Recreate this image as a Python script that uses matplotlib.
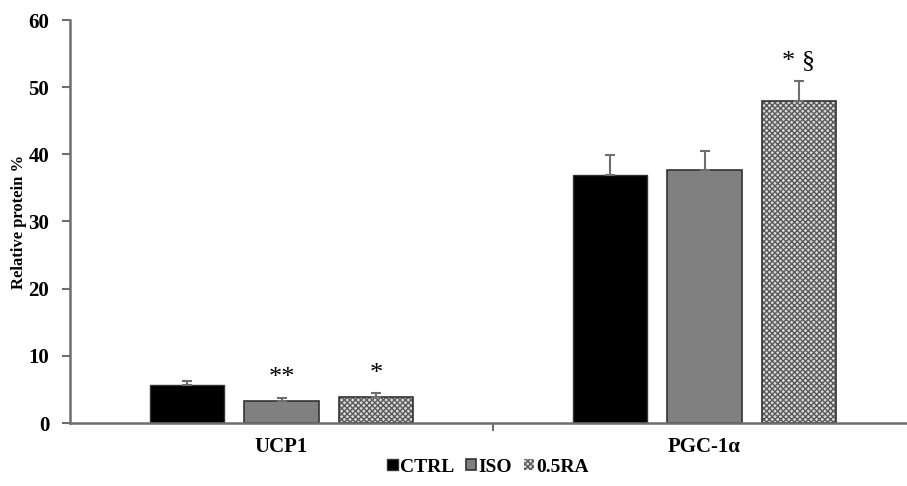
import numpy as np
import matplotlib.pyplot as plt

plt.rcParams['font.family'] = ['Liberation Serif', 'DejaVu Serif']
plt.rcParams['font.weight'] = 'bold'

categories = ["UCP1", "PGC-1\u03b1"]
groups = ["CTRL", "ISO", "0.5RA"]
ctrl = [5.6, 36.9]
iso = [3.3, 37.6]
ra = [3.9, 47.9]
ctrl_err = [0.6, 3.0]
iso_err = [0.4, 2.9]
ra_err = [0.5, 3.0]
marks = [["", "**", "*"], ["", "", "* \u00a7"]]

fig = plt.figure(figsize=(9.07, 4.86), dpi=100)
# axes run past the right edge of the figure, as in the reference
ax = fig.add_axes([70/907, 63/486, 846/907, 403/486])

x = np.arange(len(categories))
w = 0.177
step = 0.2235
vals = [ctrl, iso, ra]
errs = [ctrl_err, iso_err, ra_err]
ecol = '#6e6e6e'

for i, (v, e) in enumerate(zip(vals, errs)):
    pos = x + (i - 1) * step
    if i == 0:
        ax.bar(pos, v, w, color='black', edgecolor='#333333', lw=1, label=groups[i])
    elif i == 1:
        ax.bar(pos, v, w, color='#808080', edgecolor='#333333', lw=1.2, label=groups[i])
    else:
        ax.bar(pos, v, w, color='#d9d9d9', edgecolor='#5a5a5a', hatch='xxxxxx', lw=0, label=groups[i])
        ax.bar(pos, v, w, color='none', edgecolor='#333333', lw=1.2)
    ax.errorbar(pos, v, yerr=[np.zeros(len(e)), e], fmt='none', ecolor=ecol,
                elinewidth=1.5, capsize=3.5, capthick=1.5)
    for j in range(len(categories)):
        m = marks[j][i]
        if m:
            ax.text(pos[j], v[j] + e[j] + 1.3, m, ha='center', va='bottom',
                    fontsize=19, fontweight='normal')

ax.set_xlim(-0.5, 1.5)
ax.set_ylim(0, 60)
ax.set_yticks(range(0, 61, 10))
ax.set_xticks(x)
ax.set_xticklabels(categories, fontsize=15, fontweight='bold')
ax.set_xticks([0.5], minor=True)
ax.tick_params(axis='x', which='major', length=0, pad=10)
ax.tick_params(axis='x', which='minor', length=6, width=1.5, color=ecol)
ax.tick_params(axis='y', length=6, width=1.5, color=ecol, labelsize=15, pad=9)
for lab in ax.get_yticklabels():
    lab.set_fontweight('bold')

for s in ['top', 'right']:
    ax.spines[s].set_visible(False)
for s in ['left', 'bottom']:
    ax.spines[s].set_color(ecol)
    ax.spines[s].set_linewidth(1.8)

ax.set_ylabel("Relative protein %", fontsize=12, fontweight='bold', labelpad=1)

handles, labels = ax.get_legend_handles_labels()
fig.legend(handles, labels, loc='center', bbox_to_anchor=(488/907, 1 - 467/486),
           ncol=3, frameon=False, handlelength=0.55, handleheight=0.55,
           handletextpad=0.1, columnspacing=0.6, prop={'weight': 'bold', 'size': 14})

fig.savefig("out.png", dpi=100)
